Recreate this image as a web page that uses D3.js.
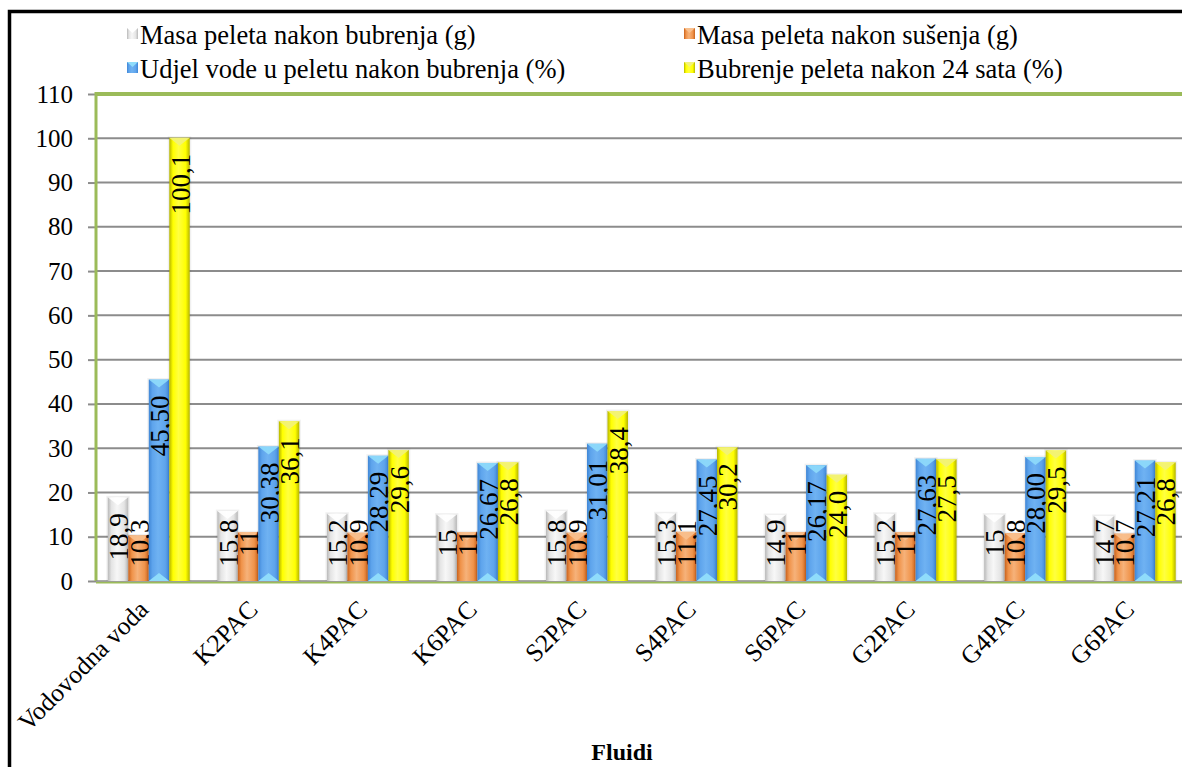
<!DOCTYPE html>
<html><head><meta charset="utf-8">
<script src="https://cdn.jsdelivr.net/npm/d3@7"></script>
<style>body{margin:0;background:#fff;}svg{display:block;}
text{font-family:"Liberation Serif","Tinos","Times New Roman","DejaVu Serif",serif !important;}</style>
</head><body>
<svg id="c" width="1182" height="767"></svg>
<script>
const categories = ["Vodovodna voda","K2PAC","K4PAC","K6PAC","S2PAC","S4PAC","S6PAC","G2PAC","G4PAC","G6PAC"];
const seriesNames = ["Masa peleta nakon bubrenja (g)","Masa peleta nakon sušenja (g)","Udjel vode u peletu nakon bubrenja (%)","Bubrenje peleta nakon 24 sata (%)"];
const masaBubrenja = [18.9,15.8,15.2,15,15.8,15.3,14.9,15.2,15,14.7];
const masaSusenja = [10.3,11,10.9,11,10.9,11.1,11,11,10.8,10.7];
const udjelVode = [45.50,30.38,28.29,26.67,31.01,27.45,26.17,27.63,28.00,27.21];
const bubrenje24 = [100.1,36.1,29.6,26.8,38.4,30.2,24.0,27.5,29.5,26.8];
const labelDecimals = [null,null,2,1];
const yTicks = [0,10,20,30,40,50,60,70,80,90,100,110];
const xTitle = "Fluidi";

const FONT = '"Liberation Serif","Tinos","Times New Roman","DejaVu Serif",serif';
const seriesValues = [masaBubrenja, masaSusenja, udjelVode, bubrenje24];
const styles = [
  {dark:"#b8b8b8", mid:"#e4e4e4", light:"#f7f7f7", cap:"#ffffff", bottomCap:null},
  {dark:"#c9621c", mid:"#f0934a", light:"#f6b27a", cap:"#f8c08e", bottomCap:null},
  {dark:"#3f86d6", mid:"#5ea4ec", light:"#6fb2f2", cap:"#8fdcfb", bottomCap:"#8fdcfb"},
  {dark:"#b4b400", mid:"#ffff00", light:"#ffff40", cap:"#f2f27a", bottomCap:null}
];

const svg = d3.select("#c").attr("font-family",FONT);
const defs = svg.append("defs");
styles.forEach((s,i)=>{
  const g = defs.append("linearGradient").attr("id","g"+i).attr("x1","0").attr("x2","1").attr("y1","0").attr("y2","0");
  g.append("stop").attr("offset","0").attr("stop-color",s.dark);
  g.append("stop").attr("offset","0.18").attr("stop-color",s.mid);
  g.append("stop").attr("offset","0.45").attr("stop-color",s.light);
  g.append("stop").attr("offset","0.8").attr("stop-color",s.mid);
  g.append("stop").attr("offset","1").attr("stop-color",s.dark);
});

const plot = {left:94, right:1189.5, top:94, bottom:581};
const x0 = d3.scaleBand().domain(categories).range([plot.left, plot.right]).padding(0);
const x1 = d3.scaleBand().domain(d3.range(4)).range([-41, 41]).padding(0);
const y = d3.scaleLinear().domain([0,110]).range([plot.bottom, plot.top]);

// outer frame
svg.append("rect").attr("x",9.5).attr("y",11.5).attr("width",2000).attr("height",2000)
  .attr("fill","none").attr("stroke","#000").attr("stroke-width",3.5);

// gridlines
svg.append("g").selectAll("line").data(yTicks.filter(t=>t>0 && t<110)).join("line")
  .attr("x1",plot.left+2).attr("x2",1182).attr("y1",d=>y(d)).attr("y2",d=>y(d))
  .attr("stroke","#8c8c8c").attr("stroke-width",2);

// y axis
const yAxis = svg.append("g").attr("transform",`translate(${plot.left+2},0)`)
  .call(d3.axisLeft(y).tickValues(yTicks).tickSize(8).tickPadding(15).tickFormat(d3.format("d")));
yAxis.attr("font-family",FONT);
yAxis.select(".domain").remove();
yAxis.selectAll(".tick line").attr("stroke","#8c8c8c").attr("stroke-width",2);
yAxis.selectAll(".tick text").attr("font-size",25).attr("fill","#000").attr("font-family",FONT);

// plot border (green)
svg.append("line").attr("x1",plot.left+2).attr("x2",1182).attr("y1",plot.top).attr("y2",plot.top)
  .attr("stroke","#9bbb59").attr("stroke-width",4);
svg.append("line").attr("x1",plot.left+2).attr("x2",plot.left+2).attr("y1",plot.top-2).attr("y2",plot.bottom)
  .attr("stroke","#9bbb59").attr("stroke-width",3);
svg.append("line").attr("x1",plot.left+2).attr("x2",1182).attr("y1",plot.bottom+1.5).attr("y2",plot.bottom+1.5)
  .attr("stroke","#9bbb59").attr("stroke-width",2);
svg.append("line").attr("x1",plot.left+2).attr("x2",1182).attr("y1",plot.bottom).attr("y2",plot.bottom)
  .attr("stroke","#8c8c8c").attr("stroke-width",1.5);

// bars
const rows = [];
categories.forEach((c,ci)=>seriesValues.forEach((vals,si)=>rows.push({c,ci,si,v:vals[ci]})));
const bw = x1.bandwidth();
const bars = svg.append("g").selectAll("g").data(rows).join("g")
  .attr("transform",d=>`translate(${x0(d.c)+x0.bandwidth()/2+x1(d.si)},0)`);
bars.append("rect").attr("x",-1.5).attr("width",bw+3).attr("y",d=>y(d.v)-1.5).attr("height",d=>y(0)-y(d.v)+1.5)
  .attr("fill","#000").attr("opacity",0.06);
bars.append("rect").attr("x",0).attr("width",bw).attr("y",d=>y(d.v)).attr("height",d=>y(0)-y(d.v))
  .attr("fill",d=>`url(#g${d.si})`);
bars.append("path").attr("d",d=>{const t=y(d.v);return `M0,${t} L${bw},${t} L${bw/2},${t+8} Z`;})
  .attr("fill",d=>styles[d.si].cap).attr("opacity",0.9);
bars.filter(d=>styles[d.si].bottomCap).append("path")
  .attr("d",d=>{const b=y(0);return `M0,${b} L${bw},${b} L${bw/2},${b-8} Z`;})
  .attr("fill",d=>styles[d.si].bottomCap);

// labels
const fmt = (v,si)=> (labelDecimals[si]==null ? String(v) : v.toFixed(labelDecimals[si])).replace(".",",");
const lab = bars.append("text").attr("font-size",27).attr("fill","#000").attr("font-family",FONT)
  .attr("text-anchor","middle").attr("dominant-baseline","central")
  .text(d=>fmt(d.v,d.si));
lab.each(function(d){
  const len = this.getComputedTextLength();
  let cy = y(d.v)+16+len/2;
  cy = Math.min(cy, y(0)-38);
  d3.select(this).attr("transform",`translate(${bw/2+1},${cy}) rotate(-90)`);
});

// x axis labels
svg.append("g").selectAll("text").data(categories).join("text")
  .attr("transform",d=>`translate(${x0(d)+x0.bandwidth()/2+1},${plot.bottom+30}) rotate(-45)`)
  .attr("text-anchor","end").attr("font-size",25.5).attr("fill","#000").attr("font-family",FONT).text(d=>d);

svg.append("text").attr("x",622).attr("y",760).attr("text-anchor","middle").attr("font-family",FONT)
  .attr("font-size",24).attr("font-weight","bold").text(xTitle);

// legend
const legPos = [[127,44],[684,44],[127,78],[684,78]];
const leg = svg.append("g").selectAll("g").data(seriesNames).join("g")
  .attr("transform",(d,i)=>`translate(${legPos[i][0]},${legPos[i][1]})`);
leg.append("rect").attr("x",0).attr("y",-16).attr("width",11).attr("height",11).attr("fill",(d,i)=>`url(#g${i})`);
leg.append("path").attr("d","M0,-16 L11,-16 L5.5,-11 Z").attr("fill",(d,i)=>styles[i].cap);
leg.append("text").attr("x",13).attr("y",0).attr("font-size",26.5).attr("fill","#000").attr("font-family",FONT).text(d=>d);
</script>
</body></html>
